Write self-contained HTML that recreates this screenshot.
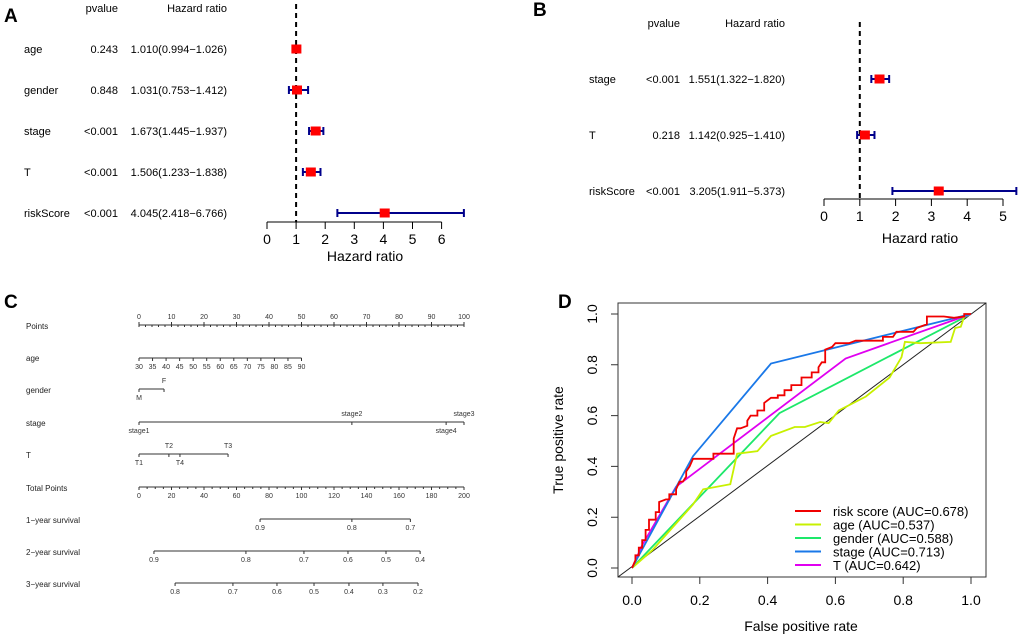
<!DOCTYPE html>
<html><head><meta charset="utf-8"><style>
html,body{margin:0;padding:0;background:#fff;}
svg{display:block;font-family:"Liberation Sans",Arial,sans-serif;}
</style></head><body>
<svg id="fig" width="1020" height="637" viewBox="0 0 1020 637" xmlns="http://www.w3.org/2000/svg">
<text x="4" y="22" font-size="19" font-weight="bold">A</text>
<text x="533" y="16" font-size="19" font-weight="bold">B</text>
<text x="4" y="308" font-size="19" font-weight="bold">C</text>
<text x="558" y="308" font-size="19" font-weight="bold">D</text>
<g id="pa"></g>
<g id="pb"></g>
<g id="pc"></g>
<g id="pd"></g>
</svg>
<script>
// ---- Panel A data
const aNames=["age","gender","stage","T","riskScore"];
const aP=["0.243","0.848","<0.001","<0.001","<0.001"];
const aHR=[1.010,1.031,1.673,1.506,4.045];
const aLo=[0.994,0.753,1.445,1.233,2.418];
const aHi=[1.026,1.412,1.937,1.838,6.766];
const aTicks=[0,1,2,3,4,5,6];
// ---- Panel B data
const bNames=["stage","T","riskScore"];
const bP=["<0.001","0.218","<0.001"];
const bHR=[1.551,1.142,3.205];
const bLo=[1.322,0.925,1.911];
const bHi=[1.820,1.410,5.373];
const bTicks=[0,1,2,3,4,5];
// ---- Panel C data (nomogram)
const pointTicks=[0,10,20,30,40,50,60,70,80,90,100];
const ageTicks=[30,35,40,45,50,55,60,65,70,75,80,85,90];
const genderLabels=["M","F"];const genderPts=[0,7.7];
const stageLabels=["stage1","stage2","stage4","stage3"];const stagePts=[0,65.5,94.5,100];
const tLabels=["T1","T2","T4","T3"];const tPts=[0,9.2,12.6,27.4];
const totalTicks=[0,20,40,60,80,100,120,140,160,180,200];
const surv1Labels=["0.9","0.8","0.7"];const surv1Pts=[74.5,131,167];
const surv2Labels=["0.9","0.8","0.7","0.6","0.5","0.4"];const surv2Pts=[9.2,65.8,101.5,128.6,152,173];
const surv3Labels=["0.8","0.7","0.6","0.5","0.4","0.3","0.2"];const surv3Pts=[22.2,57.8,84.9,107.7,129.2,150.1,171.7];
// ---- Panel D data (ROC)
const rocTicks=[0,0.2,0.4,0.6,0.8,1.0];
const riskX=[0,0.01,0.01,0.02,0.02,0.03,0.03,0.04,0.04,0.05,0.05,0.06,0.07,0.07,0.08,0.08,0.1,0.11,0.11,0.13,0.13,0.14,0.15,0.16,0.16,0.17,0.18,0.18,0.21,0.24,0.24,0.29,0.3,0.3,0.31,0.32,0.34,0.34,0.35,0.37,0.37,0.39,0.39,0.41,0.43,0.43,0.45,0.45,0.47,0.47,0.5,0.5,0.53,0.53,0.55,0.55,0.56,0.57,0.57,0.59,0.6,0.64,0.66,0.74,0.74,0.77,0.78,0.83,0.84,0.87,0.87,0.92,0.95,0.98,0.98,1];
const riskY=[0,0.03,0.05,0.05,0.08,0.08,0.11,0.11,0.15,0.15,0.19,0.19,0.19,0.22,0.22,0.26,0.27,0.27,0.29,0.29,0.31,0.34,0.34,0.36,0.38,0.4,0.43,0.43,0.43,0.43,0.45,0.45,0.45,0.51,0.55,0.55,0.56,0.58,0.6,0.6,0.62,0.62,0.65,0.67,0.67,0.68,0.68,0.7,0.7,0.72,0.72,0.75,0.75,0.77,0.77,0.79,0.81,0.81,0.86,0.87,0.885,0.885,0.895,0.895,0.91,0.91,0.93,0.93,0.945,0.96,0.99,0.99,0.985,0.99,1,1];
const ageX=[0,0.06,0.18,0.21,0.29,0.31,0.37,0.41,0.48,0.51,0.555,0.58,0.61,0.69,0.76,0.795,0.805,0.85,0.94,0.953,0.97,0.98,1];
const ageY=[0,0.07,0.25,0.31,0.33,0.45,0.46,0.52,0.555,0.555,0.575,0.57,0.62,0.675,0.75,0.83,0.89,0.885,0.89,0.945,0.95,0.99,1];
const genderX=[0,0.435,1];
const genderY=[0,0.61,1];
const stageX=[0,0.18,0.41,1];
const stageY=[0,0.44,0.805,1];
const tX=[0,0.03,0.13,0.63,1];
const tY=[0,0.09,0.32,0.825,1];
const legendLabels=["risk score (AUC=0.678)","age (AUC=0.537)","gender (AUC=0.588)","stage (AUC=0.713)","T (AUC=0.642)"];

const NS="http://www.w3.org/2000/svg";
function mk(parent,tag,attrs,txt){const e=document.createElementNS(NS,tag);for(const k in attrs)e.setAttribute(k,attrs[k]);if(txt!==undefined)e.textContent=txt;parent.appendChild(e);return e;}

// ---------- Forest plot
function forest(g,o,names,ps,hr,lo,hi,ticks){
  const sx=v=>o.x0+v*o.unit;
  mk(g,"text",{x:o.pX,y:o.hy,"font-size":11,"text-anchor":"end",},"pvalue");
  mk(g,"text",{x:o.hX,y:o.hy,"font-size":11,"text-anchor":"end",},"Hazard ratio");
  const d=mk(g,"line",{x1:sx(1),x2:sx(1),y1:o.dTop,y2:o.axY,stroke:"#000","stroke-width":2,"stroke-dasharray":"5,4"});
  
  
  names.forEach((n,i)=>{
    const y=o.rows[i];
    const t1=mk(g,"text",{x:o.nX,y:y+4,"font-size":11});t1.textContent=n;
    
    
    const t2=mk(g,"text",{x:o.pX,y:y+4,"font-size":11,"text-anchor":"end"});t2.textContent=ps[i];
    
    
    const t3=mk(g,"text",{x:o.hX,y:y+4,"font-size":11,"text-anchor":"end"});t3.textContent=hr[i].toFixed(3)+"("+lo[i].toFixed(3)+"\u2212"+hi[i].toFixed(3)+")";
    
    
    const ci=mk(g,"path",{d:`M${sx(lo[i])},${y}H${sx(hi[i])}M${sx(lo[i])},${y-4}V${y+4}M${sx(hi[i])},${y-4}V${y+4}`,stroke:"#00008b","stroke-width":2,fill:"none"});
    
    
    const b=mk(g,"rect",{x:sx(hr[i])-5,y:y-4.5,width:10,height:9,fill:"#f00"});
    
    
  });
  const ax=mk(g,"path",{d:`M${sx(ticks[0])},${o.axY}H${sx(ticks[ticks.length-1])}`+ticks.map(t=>`M${sx(t)},${o.axY}V${o.axY+7}`).join(""),stroke:"#000","stroke-width":1,fill:"none"});
  
  
  ticks.forEach(t=>{const e=mk(g,"text",{x:sx(t),y:o.axY+22,"font-size":14,"text-anchor":"middle"});e.textContent=t;
    
    });
  mk(g,"text",{x:o.titleX,y:o.titleY,"font-size":14,"text-anchor":"middle",},"Hazard ratio");
}
forest(document.getElementById("pa"),{x0:267,unit:29.1,axY:222,dTop:4,rows:[49,90,131,172,213],nX:24,pX:118,hX:227,hy:12,titleX:365,titleY:261},aNames,aP,aHR,aLo,aHi,aTicks);
forest(document.getElementById("pb"),{x0:824,unit:35.8,axY:199,dTop:22,rows:[79,135,191],nX:589,pX:680,hX:785,hy:27,titleX:920,titleY:243},bNames,bP,bHR,bLo,bHi,bTicks);

// ---------- Nomogram
const pc=document.getElementById("pc");
const NX0=139,NX1=464;
const ptX=v=>NX0+v/100*(NX1-NX0);
const totX=v=>NX0+v/200*(NX1-NX0);
function rowLabel(txt,y){const e=mk(pc,"text",{x:26,y:y+4,"font-size":8,fill:"#222"});e.textContent=txt;
  
  }
function scale(xs,labels,y,above,minor){
  let d=`M${Math.min(...xs)},${y}H${Math.max(...xs)}`;
  xs.forEach(x=>{d+=`M${x},${y}V${y+(above===true?-3:3)}`;});
  if(minor)minor.forEach(x=>{d+=`M${x},${y}V${y+2}`;});
  const p=mk(pc,"path",{d:d,stroke:"#333","stroke-width":1,fill:"none"});
  
  
  xs.forEach((x,i)=>{
    const up=Array.isArray(above)?above[i]:above;
    const e=mk(pc,"text",{x:x,y:up?y-6:y+11,"font-size":7,"text-anchor":"middle",fill:"#333"});e.textContent=labels[i];
    
    
  });
}
rowLabel("Points",325);
const minorP=[];for(let v=0;v<=100;v+=2)minorP.push(ptX(v));
scale(pointTicks.map(ptX),pointTicks,325,true,minorP);
rowLabel("age",357);
scale(ageTicks.map(v=>ptX((v-30)/60*50)),ageTicks,358,false);
rowLabel("gender",389);
scale(genderPts.map(ptX),genderLabels,389,[false,true]);
rowLabel("stage",422);
scale(stagePts.map(ptX),stageLabels,422,[false,true,false,true]);
rowLabel("T",454);
scale(tPts.map(ptX),tLabels,454,[false,true,false,true]);
rowLabel("Total Points",487);
const minorT=[];for(let v=0;v<=200;v+=5)minorT.push(totX(v));
scale(totalTicks.map(totX),totalTicks,487,false,minorT);
rowLabel("1\u2212year survival",519);
scale(surv1Pts.map(totX),surv1Labels,519,false);
rowLabel("2\u2212year survival",551);
scale(surv2Pts.map(totX),surv2Labels,551,false);
rowLabel("3\u2212year survival",583);
scale(surv3Pts.map(totX),surv3Labels,583,false);

// ---------- ROC
const pd=document.getElementById("pd");
const BX0=618,BX1=986,BY0=303,BY1=577;
const rx=v=>632+v*(971-632);
const ry=v=>568-v*(568-314);
mk(pd,"rect",{x:BX0,y:BY0,width:BX1-BX0,height:BY1-BY0,fill:"none",stroke:"#333","stroke-width":1,});
mk(pd,"line",{x1:BX0,y1:BY1,x2:BX1,y2:BY0,stroke:"#222","stroke-width":1,});
rocTicks.forEach(t=>{
  const a=mk(pd,"path",{d:`M${rx(t)},${BY1}V${BY1+7}M${BX0},${ry(t)}H${BX0-7}`,stroke:"#333",fill:"none"});
  
  
  const xl=mk(pd,"text",{x:rx(t),y:605,"font-size":14,"text-anchor":"middle"});xl.textContent=t.toFixed(1);
  
  
  const yl=mk(pd,"text",{x:597,y:ry(t),"font-size":14,"text-anchor":"middle",transform:`rotate(-90 597 ${ry(t)})`});yl.textContent=t.toFixed(1);
  
  
});
mk(pd,"text",{x:801,y:631,"font-size":14,"text-anchor":"middle",},"False positive rate");
mk(pd,"text",{x:563,y:440,"font-size":14,"text-anchor":"middle",transform:"rotate(-90 563 440)",},"True positive rate");
const series=[[genderX,genderY,"#1de86a","gender"],[ageX,ageY,"#c8f000","age"],[tX,tY,"#e000f0","T"],[stageX,stageY,"#1a78e8","stage"],[riskX,riskY,"#f00000","risk-score"]];
series.forEach(s=>{
  const pts=s[0].map((x,i)=>rx(x).toFixed(1)+","+ry(s[1][i]).toFixed(1)).join(" ");
  const pl=mk(pd,"polyline",{points:pts,fill:"none",stroke:s[2],"stroke-width":1.8});
  
  
});
const legColors=["#f00000","#c8f000","#1de86a","#1a78e8","#e000f0"];
legendLabels.forEach((l,i)=>{
  const y=511+i*13.5;
  const ln=mk(pd,"line",{x1:795,x2:821,y1:y,y2:y,stroke:legColors[i],"stroke-width":2});
  
  
  const t=mk(pd,"text",{x:833,y:y+5,"font-size":13});t.textContent=l;
  
  
});
</script>
</body></html>
